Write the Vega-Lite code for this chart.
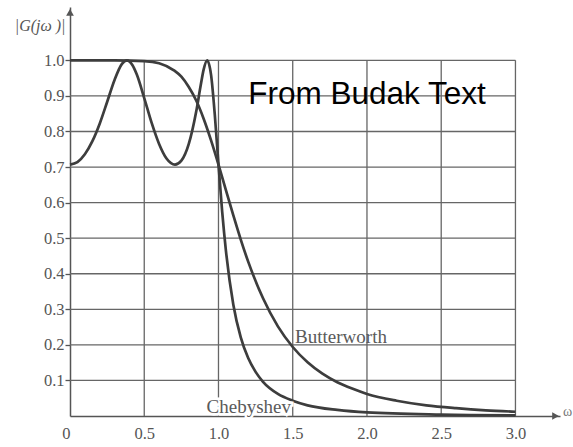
{
  "$schema": "https://vega.github.io/schema/vega-lite/v6.json",
  "autosize": "none",
  "padding": {"left": 70, "top": 7, "right": 13, "bottom": 31},
  "width": 490,
  "height": 409,
  "background": "white",
  "config": {"view": {"stroke": null}},
  "datasets": {
    "grid": [
      {"x": 0, "x2": 3, "y": 0.1, "y2": 0.1},
      {"x": 0, "x2": 3, "y": 0.2, "y2": 0.2},
      {"x": 0, "x2": 3, "y": 0.3, "y2": 0.3},
      {"x": 0, "x2": 3, "y": 0.4, "y2": 0.4},
      {"x": 0, "x2": 3, "y": 0.5, "y2": 0.5},
      {"x": 0, "x2": 3, "y": 0.6, "y2": 0.6},
      {"x": 0, "x2": 3, "y": 0.7, "y2": 0.7},
      {"x": 0, "x2": 3, "y": 0.8, "y2": 0.8},
      {"x": 0, "x2": 3, "y": 0.9, "y2": 0.9},
      {"x": 0, "x2": 3, "y": 1.0, "y2": 1.0},
      {"x": 0.5, "x2": 0.5, "y": 0, "y2": 1.0},
      {"x": 1.0, "x2": 1.0, "y": 0, "y2": 1.0},
      {"x": 1.5, "x2": 1.5, "y": 0, "y2": 1.0},
      {"x": 2.0, "x2": 2.0, "y": 0, "y2": 1.0},
      {"x": 2.5, "x2": 2.5, "y": 0, "y2": 1.0},
      {"x": 3.0, "x2": 3.0, "y": 0, "y2": 1.0}
    ],
    "curves": [
      {"s": "Chebyshev", "x": 0, "y": 0.707},
      {"s": "Chebyshev", "x": 0.05, "y": 0.714},
      {"s": "Chebyshev", "x": 0.1, "y": 0.736},
      {"s": "Chebyshev", "x": 0.15, "y": 0.772},
      {"s": "Chebyshev", "x": 0.2, "y": 0.822},
      {"s": "Chebyshev", "x": 0.25, "y": 0.883},
      {"s": "Chebyshev", "x": 0.3, "y": 0.945},
      {"s": "Chebyshev", "x": 0.35, "y": 0.990},
      {"s": "Chebyshev", "x": 0.383, "y": 1.0},
      {"s": "Chebyshev", "x": 0.42, "y": 0.987},
      {"s": "Chebyshev", "x": 0.45, "y": 0.960},
      {"s": "Chebyshev", "x": 0.5, "y": 0.894},
      {"s": "Chebyshev", "x": 0.55, "y": 0.824},
      {"s": "Chebyshev", "x": 0.6, "y": 0.765},
      {"s": "Chebyshev", "x": 0.65, "y": 0.724},
      {"s": "Chebyshev", "x": 0.707, "y": 0.707},
      {"s": "Chebyshev", "x": 0.75, "y": 0.718},
      {"s": "Chebyshev", "x": 0.8, "y": 0.765},
      {"s": "Chebyshev", "x": 0.85, "y": 0.856},
      {"s": "Chebyshev", "x": 0.88, "y": 0.929},
      {"s": "Chebyshev", "x": 0.9, "y": 0.974},
      {"s": "Chebyshev", "x": 0.924, "y": 1.0},
      {"s": "Chebyshev", "x": 0.95, "y": 0.959},
      {"s": "Chebyshev", "x": 0.975, "y": 0.848},
      {"s": "Chebyshev", "x": 1.0, "y": 0.707},
      {"s": "Chebyshev", "x": 1.025, "y": 0.574},
      {"s": "Chebyshev", "x": 1.05, "y": 0.465},
      {"s": "Chebyshev", "x": 1.1, "y": 0.313},
      {"s": "Chebyshev", "x": 1.15, "y": 0.221},
      {"s": "Chebyshev", "x": 1.2, "y": 0.163},
      {"s": "Chebyshev", "x": 1.25, "y": 0.124},
      {"s": "Chebyshev", "x": 1.3, "y": 0.096},
      {"s": "Chebyshev", "x": 1.4, "y": 0.062},
      {"s": "Chebyshev", "x": 1.5, "y": 0.043},
      {"s": "Chebyshev", "x": 1.6, "y": 0.030},
      {"s": "Chebyshev", "x": 1.8, "y": 0.017},
      {"s": "Chebyshev", "x": 2.0, "y": 0.010},
      {"s": "Chebyshev", "x": 2.5, "y": 0.004},
      {"s": "Chebyshev", "x": 3.0, "y": 0.002},
      {"s": "Butterworth", "x": 0, "y": 1.0},
      {"s": "Butterworth", "x": 0.3, "y": 1.0},
      {"s": "Butterworth", "x": 0.5, "y": 0.998},
      {"s": "Butterworth", "x": 0.6, "y": 0.992},
      {"s": "Butterworth", "x": 0.7, "y": 0.972},
      {"s": "Butterworth", "x": 0.75, "y": 0.954},
      {"s": "Butterworth", "x": 0.8, "y": 0.925},
      {"s": "Butterworth", "x": 0.85, "y": 0.887},
      {"s": "Butterworth", "x": 0.9, "y": 0.836},
      {"s": "Butterworth", "x": 0.95, "y": 0.775},
      {"s": "Butterworth", "x": 1.0, "y": 0.707},
      {"s": "Butterworth", "x": 1.05, "y": 0.635},
      {"s": "Butterworth", "x": 1.1, "y": 0.564},
      {"s": "Butterworth", "x": 1.15, "y": 0.496},
      {"s": "Butterworth", "x": 1.2, "y": 0.434},
      {"s": "Butterworth", "x": 1.3, "y": 0.331},
      {"s": "Butterworth", "x": 1.4, "y": 0.252},
      {"s": "Butterworth", "x": 1.5, "y": 0.194},
      {"s": "Butterworth", "x": 1.6, "y": 0.151},
      {"s": "Butterworth", "x": 1.7, "y": 0.119},
      {"s": "Butterworth", "x": 1.8, "y": 0.095},
      {"s": "Butterworth", "x": 1.9, "y": 0.077},
      {"s": "Butterworth", "x": 2.0, "y": 0.062},
      {"s": "Butterworth", "x": 2.2, "y": 0.043},
      {"s": "Butterworth", "x": 2.4, "y": 0.030},
      {"s": "Butterworth", "x": 2.6, "y": 0.022},
      {"s": "Butterworth", "x": 2.8, "y": 0.016},
      {"s": "Butterworth", "x": 3.0, "y": 0.012}
    ],
    "butterLabel": [{"t": "Butterworth", "x": 1.516, "y": 0.205}],
    "chebLabel": [{"t": "Chebyshev", "x": 0.92, "y": 0.024}],
    "note": [{"t": "From Budak Text", "x": 1.2, "y": 0.876}],
    "arrows": [
      {"x": 0, "y": 1.135, "shape": "triangle-up"},
      {"x": 3.27, "y": 0, "shape": "triangle-right"}
    ],
    "omega": [{"t": "ω", "x": 3.32, "y": 0.011}]
  },
  "encoding": {
    "x": {
      "field": "x", "type": "quantitative",
      "scale": {"domain": [0, 3.3], "nice": false, "zero": false},
      "axis": {
        "values": [0, 0.5, 1.0, 1.5, 2.0, 2.5, 3.0],
        "labelExpr": "datum.value == 0 ? '0' : format(datum.value, '.1f')",
        "labelAlign": {"condition": {"test": "datum.value == 0", "value": "right"}, "value": "center"},
        "grid": false, "ticks": false, "tickSize": 0,
        "labelPadding": 9, "labelFont": "Liberation Serif", "labelFontSize": 16.5,
        "labelColor": "#555555", "domainColor": "#555555", "domainWidth": 1.5,
        "labelFlush": false, "labelOverlap": false, "title": null
      }
    },
    "y": {
      "field": "y", "type": "quantitative",
      "scale": {"domain": [0, 1.15], "nice": false, "zero": false},
      "axis": {
        "values": [0.1, 0.2, 0.3, 0.4, 0.5, 0.6, 0.7, 0.8, 0.9, 1.0],
        "format": ".1f",
        "grid": false, "ticks": true, "tickSize": 5, "tickColor": "#555555", "tickWidth": 1.3,
        "labelPadding": 1, "labelFont": "Liberation Serif", "labelFontSize": 16.5,
        "labelColor": "#555555", "domainColor": "#555555", "domainWidth": 1.5,
        "labelFlush": false, "labelOverlap": false,
        "title": "|G(jω )|", "titleAngle": 0, "titleAlign": "right", "titleBaseline": "middle",
        "titleX": -5, "titleY": 18, "titleFont": "Liberation Serif", "titleFontSize": 16,
        "titleFontStyle": "italic", "titleFontWeight": "normal", "titleColor": "#555555"
      }
    }
  },
  "layer": [
    {
      "data": {"name": "grid"},
      "mark": {"type": "rule", "color": "#666666", "strokeWidth": 1.3},
      "encoding": {
        "x2": {"field": "x2"},
        "y2": {"field": "y2"}
      }
    },
    {
      "data": {"name": "curves"},
      "mark": {"type": "line", "interpolate": "monotone", "color": "#3d3d3d", "strokeWidth": 2.7},
      "encoding": {
        "detail": {"field": "s"}
      }
    },
    {
      "data": {"name": "chebLabel"},
      "mark": {"type": "text", "align": "left", "baseline": "middle", "font": "Liberation Serif", "fontSize": 19, "stroke": "white", "strokeWidth": 5, "fill": "white"},
      "encoding": {
        "text": {"field": "t"}
      }
    },
    {
      "data": {"name": "chebLabel"},
      "mark": {"type": "text", "align": "left", "baseline": "middle", "font": "Liberation Serif", "fontSize": 19, "fill": "#5a5a5a"},
      "encoding": {
        "text": {"field": "t"}
      }
    },
    {
      "data": {"name": "butterLabel"},
      "mark": {"type": "text", "align": "left", "baseline": "alphabetic", "font": "Liberation Serif", "fontSize": 19, "fill": "#5a5a5a"},
      "encoding": {
        "text": {"field": "t"}
      }
    },
    {
      "data": {"name": "note"},
      "mark": {"type": "text", "align": "left", "baseline": "alphabetic", "font": "Liberation Sans", "fontSize": 31.5, "fill": "black"},
      "encoding": {
        "text": {"field": "t"}
      }
    },
    {
      "data": {"name": "arrows"},
      "mark": {"type": "point", "filled": true, "color": "#555555", "size": 60, "opacity": 1},
      "encoding": {
        "shape": {"field": "shape", "type": "nominal", "scale": null, "legend": null}
      }
    },
    {
      "data": {"name": "omega"},
      "mark": {"type": "text", "align": "left", "baseline": "middle", "font": "Liberation Serif", "fontSize": 14, "fill": "#777777"},
      "encoding": {
        "text": {"field": "t"}
      }
    }
  ]
}
